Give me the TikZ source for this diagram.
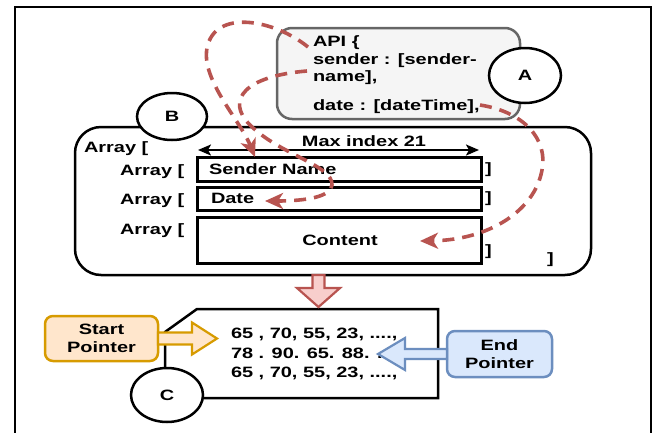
\documentclass[tikz,border=0pt]{standalone}
\usepackage{fontspec}
\setmainfont{Liberation Sans}[FakeStretch=1.33]
\usetikzlibrary{shapes.geometric,arrows.meta,calc}
\definecolor{dashred}{HTML}{B85450}
\definecolor{redfill}{HTML}{F8CECC}
\definecolor{apifill}{HTML}{F5F5F5}
\definecolor{apiline}{HTML}{666666}
\definecolor{orfill}{HTML}{FFE6CC}
\definecolor{orline}{HTML}{D79B00}
\definecolor{blfill}{HTML}{DAE8FC}
\definecolor{blline}{HTML}{6C8EBF}
\begin{document}
\begin{tikzpicture}[x=1pt,y=-1pt,
  font=\fontsize{15pt}{17.5pt}\selectfont\bfseries,
  every node/.style={inner sep=0pt, outer sep=0pt},
  tag/.style={ellipse, draw=black, line width=2.5pt, fill=white,
    minimum width=72pt, minimum height=55pt},
  cell/.style={draw=black, line width=3pt, minimum width=284pt},
  txt/.style={anchor=base west},
  pointer/.style={line width=2.5pt, rounded corners=8pt, align=center,
    font=\fontsize{15pt}{18pt}\selectfont\bfseries},
  blockarrow/.style={line width=2.2pt, line join=miter},
  flow/.style={draw=dashred, line width=3.6pt, dash pattern=on 12pt off 8pt,
    -{Stealth[length=18pt,width=16pt,inset=5pt]}},
  span/.style={line width=2pt,
    {Stealth[length=13pt,width=11pt,inset=3pt]}-{Stealth[length=13pt,width=11pt,inset=3pt]}}]
\useasboundingbox (0,0) rectangle (657,432);

% outer frame
\draw[line width=2.5pt] (15,7) rectangle (651,452);

% API description
\node[draw=apiline, fill=apifill, line width=2.5pt, rounded corners=15pt,
  minimum width=243pt, minimum height=91pt] (api) at (398.5,73.5) {};
\node[txt] (api1) at (313,46.7) {API \{};
\node[txt] (api2) at (313,64.2) {sender : [sender-};
\node[txt] (api3) at (313,81.7) {name],};
\node[txt] (api4) at (313,110) {date : [dateTime],};
\node[tag] (A) at (525,75.5) {A};

% nested arrays
\node[draw=black, line width=2.5pt, rounded corners=26pt,
  minimum width=516pt, minimum height=148pt] (arr) at (333,201) {};
\node[tag, minimum width=70pt, minimum height=47pt] (B) at (172,116.5) {B};

\node[txt] (a0) at (84,152) {Array [};
\node[anchor=base] (mx) at (364,146.5) {Max index 21};
\coordinate (ml) at (198,150);
\coordinate (mr) at (479,150);
\draw[span] (ml) -- (mr);

\node[cell, minimum height=24pt] (snd) at (339,169) {};
\node[cell, minimum height=23pt] (dat) at (339,198.5) {};
\node[cell, minimum height=46pt] (cnt) at (339,240) {};

\node[txt] (a1) at (120,175.5) {Array [};
\node[txt] (a2) at (120,204) {Array [};
\node[txt] (a3) at (120,234.5) {Array [};

\node[txt] (sndt) at (209,174.5) {Sender Name};
\node[txt] (datt) at (211,203.5) {Date};
\node[anchor=base] (cntt) at (340,245.5) {Content};

\node[txt] (c1) at (485,173) {]};
\node[txt] (c2) at (485,202) {]};
\node[txt] (c3) at (485,255) {]};
\node[txt] (c0) at (547,263) {]};

% byte buffer card
\node[minimum width=273pt, minimum height=89pt] (card) at (301.5,353.5) {};
\draw[line width=2.5pt, fill=white, line join=miter]
  ($(card.north west)+(32,0)$) -- (card.north east) -- (card.south east)
  -- (card.south west) -- ($(card.north west)+(0,23)$) -- cycle;
\node[txt] (n1) at (231,338) {65 , 70, 55, 23, ....,};
\node[txt] (n2) at (231,358) {78 . 90. 65. 88. ....,};
\node[txt] (n3) at (231,377) {65 , 70, 55, 23, ....,};
\node[tag, minimum height=54pt] (C) at (167,395) {C};

% pointers
\node[pointer, draw=orline, fill=orfill, minimum width=113pt, minimum height=45pt]
  (sp) at (101.5,338.5) {Start\\Pointer};
\draw[blockarrow, draw=orline, fill=orfill]
  ($(sp.east)+(0,-6)$) -- ++(34,0) -- ++(0,-10) -- ++(25,16) -- ++(-25,16)
  -- ++(0,-10) -- ++(-34,0) -- cycle;

\node[pointer, draw=blline, fill=blfill, minimum width=105pt, minimum height=46pt]
  (ep) at (499.5,354) {End\\Pointer};
\draw[blockarrow, draw=blline, fill=blfill]
  ($(ep.west)+(0,-5)$) -- ++(-42,0) -- ++(0,-11) -- ++(-27,16) -- ++(27,16)
  -- ++(0,-11) -- ++(42,0) -- cycle;

% arrays flow into the buffer
\coordinate (dn) at (318.5,275);
\draw[blockarrow, draw=dashred, fill=redfill]
  ($(dn)+(-6,0)$) -- ++(0,13) -- ++(-15.5,0) -- ++(21.5,19) -- ++(21.5,-19)
  -- ++(-15.5,0) -- ++(0,-13) -- cycle;

% field mapping
\coordinate (f1s) at (308,47);
\coordinate (f1e) at (255,157);
\draw[flow] (f1s) .. controls (275,20) and (215,8) .. (207,48)
  .. controls (201,80) and (240,120) .. (f1e);
\coordinate (f2s) at (307,71);
\coordinate (f2e) at (265,201);
\draw[flow] (f2s) .. controls (245,76) and (225,100) .. (250,125)
  .. controls (280,155) and (333,165) .. (332,185)
  .. controls (331,197) and (305,201) .. (f2e);
\coordinate (f3s) at (480,105);
\coordinate (f3e) at (420,241);
\draw[flow] (f3s) .. controls (525,112) and (548,140) .. (542,170)
  .. controls (535,210) and (490,240) .. (f3e);
\end{tikzpicture}
\end{document}
